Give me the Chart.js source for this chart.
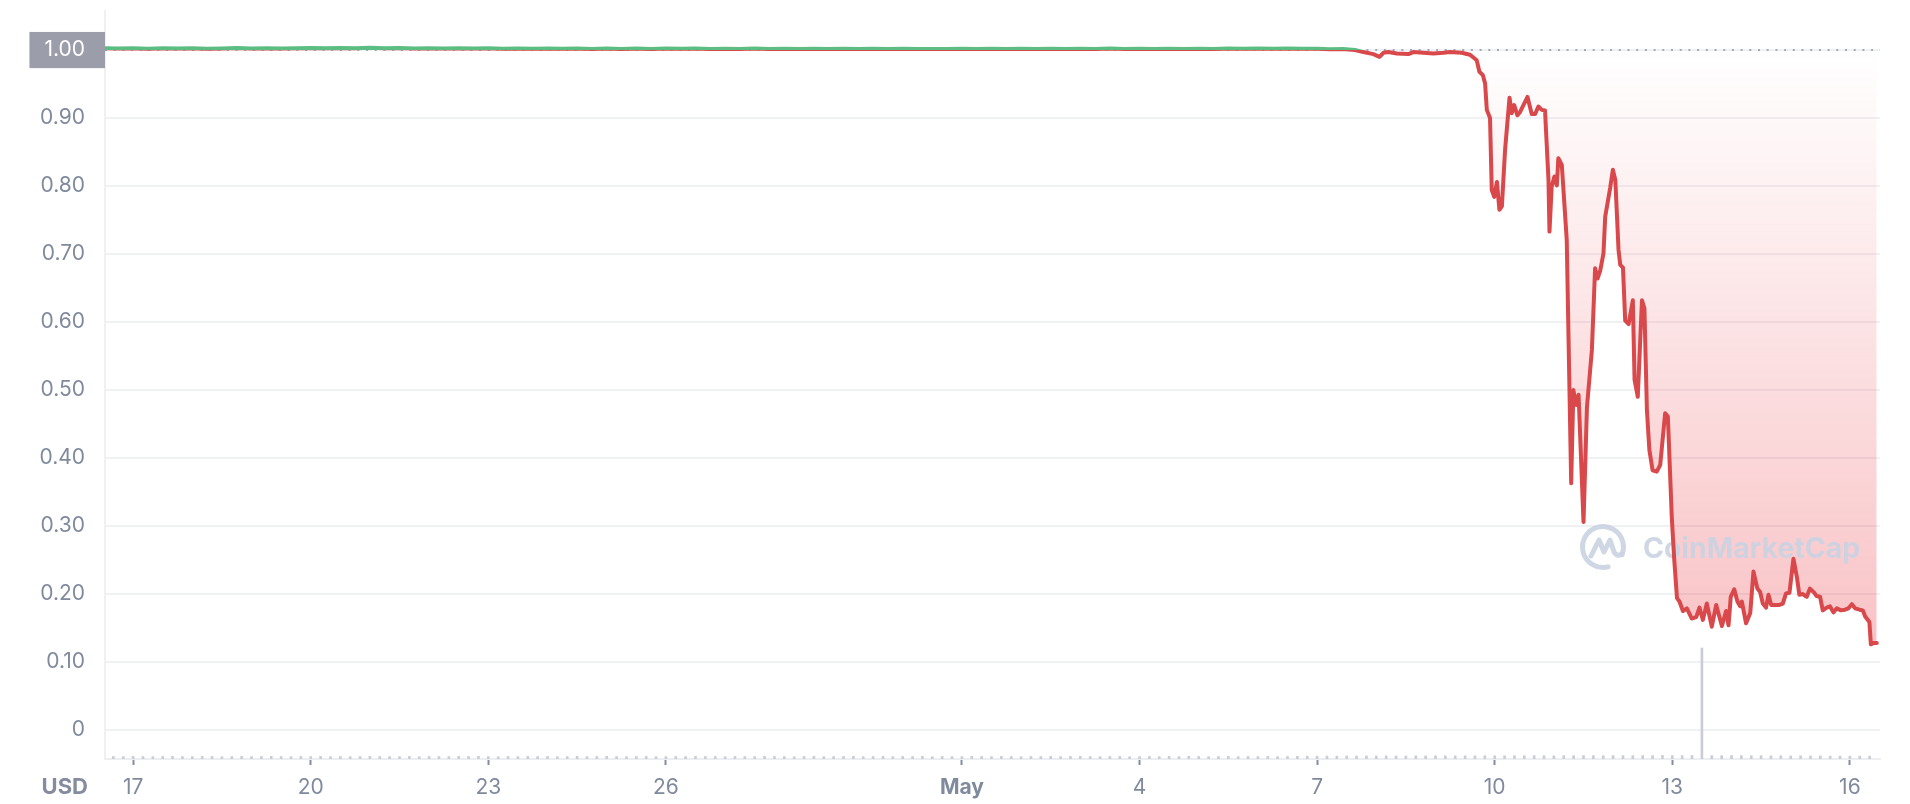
<!DOCTYPE html>
<html>
<head>
<meta charset="utf-8">
<script src="https://cdn.jsdelivr.net/npm/chart.js@4.4.0/dist/chart.umd.min.js"></script>
<style>
html,body{margin:0;padding:0;background:#fff;}
#wrap{width:1910px;height:804px;position:relative;}
</style>
</head>
<body>
<div id="wrap"><canvas id="c" width="1910" height="804"></canvas></div>
<script>
// ---------- DATA (hours counted from 17 Apr 00:00) ----------
const priceHours = [
  -11,-6,0,6,12,18,24,30,36,42,48,54,60,66,72,78,84,90,96,102,108,114,120,126,132,138,144,150,156,162,
  168,174,180,186,192,198,204,210,216,222,228,234,240,246,252,258,264,270,276,282,288,294,300,306,312,318,324,330,336,342,
  348,354,360,366,372,378,384,390,396,402,408,414,420,426,432,438,444,450,456,462,468,474,480,
  485.3,490.5,495.4,498.8,502.8,505.3,506.9,508.9,512.3,517.0,519.0,523.1,527.1,531.2,533.9,538.6,542.0,544.7,545.8,547.2,
  548.1,548.8,550.1,550.8,551.8,552.9,553.9,554.9,556.2,558.0,558.9,559.9,561.2,562.3,565.3,567.0,568.4,569.7,571.1,572.4,
  573.8,574.2,575.1,576.2,577.2,577.8,579.2,581.2,583.0,583.9,585.0,586.0,588.0,589.4,591.4,592.7,593.7,594.8,596.1,596.8,
  598.8,599.9,600.9,602.2,602.9,604.0,604.9,606.3,608.0,608.7,610.0,611.7,612.7,613.7,614.7,616.0,617.7,619.1,621.1,622.2,
  623.8,624.8,625.9,626.9,628.3,629.9,631.9,633.7,635.0,636.4,638.0,640.0,641.8,644.1,645.8,646.8,647.7,649.1,650.4,651.5,
  652.2,653.9,655.6,656.9,658.5,659.6,660.7,662.0,663.0,664.1,665.7,667.4,668.8,670.1,671.5,673.1,674.5,675.5,676.9,678.5,
  679.8,681.5,682.5,683.9,685.0,686.6,687.9,689.3,690.7,692.3,694.0,695.4,696.8,698.1,699.9,701.2,702.2,703.9,704.5,705.6,706.9
];
const priceUsd = [
  1.0025,1.0021,1.0027,1.0019,1.0025,1.0022,1.0028,1.0020,1.0024,1.0029,1.0023,1.0026,1.0021,1.0027,1.0030,1.0025,1.0031,1.0027,1.0033,1.0026,
  1.0029,1.0024,1.0028,1.0022,1.0026,1.0021,1.0025,1.0020,1.0024,1.0019,
  1.0023,1.0018,1.0022,1.0017,1.0021,1.0017,1.0022,1.0017,1.0023,1.0018,1.0021,1.0016,1.0020,1.0015,1.0021,1.0017,1.0019,1.0015,1.0018,1.0015,
  1.0020,1.0016,1.0018,1.0014,1.0019,1.0015,1.0017,1.0014,1.0018,1.0015,
  1.0019,1.0016,1.0020,1.0015,1.0018,1.0014,1.0019,1.0016,1.0021,1.0017,1.0020,1.0016,1.0019,1.0015,1.0020,1.0017,1.0021,1.0018,1.0022,1.0019,
  1.0021,1.0018,1.0020,
  1.001,1.0015,1.000,0.997,0.994,0.990,0.996,0.997,0.995,0.994,0.997,0.996,0.995,0.996,0.997,0.996,0.993,0.985,0.968,0.963,
  0.951,0.912,0.900,0.794,0.784,0.806,0.765,0.770,0.853,0.930,0.907,0.919,0.904,0.909,0.931,0.906,0.906,0.917,0.912,0.911,
  0.809,0.733,0.799,0.814,0.801,0.841,0.831,0.721,0.363,0.500,0.478,0.493,0.306,0.475,0.559,0.679,0.664,0.676,0.701,0.755,
  0.797,0.824,0.809,0.706,0.684,0.680,0.602,0.597,0.632,0.515,0.490,0.632,0.620,0.471,0.412,0.382,0.380,0.390,0.466,0.461,
  0.312,0.250,0.194,0.189,0.175,0.179,0.164,0.166,0.180,0.162,0.186,0.152,0.184,0.153,0.175,0.154,0.196,0.207,0.189,0.182,
  0.189,0.157,0.172,0.233,0.208,0.203,0.186,0.180,0.199,0.184,0.184,0.184,0.186,0.201,0.202,0.252,0.225,0.199,0.200,0.196,
  0.208,0.202,0.197,0.196,0.176,0.180,0.182,0.173,0.179,0.176,0.177,0.179,0.185,0.179,0.177,0.176,0.167,0.159,0.126,0.128,0.128
];
const baselinePrice = 1.000;

// volume, one bar every 4 hours starting at -8 h (arbitrary units)
const volumeStartHour = -8;
const volumeStepHours = 4;
const volumeValues = [
  0.34,0.32,0.35,0.33,0.31,0.34,0.36,0.33,0.32,0.35,0.34,0.31,0.33,0.35,0.32,0.34,0.36,0.33,0.31,0.34,
  0.33,0.35,0.32,0.34,0.31,0.33,0.36,0.34,0.32,0.33,0.35,0.31,0.34,0.33,0.32,0.35,0.34,0.36,0.33,0.31,
  0.34,0.32,0.35,0.33,0.34,0.31,0.33,0.35,0.32,0.34,0.36,0.33,0.32,0.34,0.35,0.31,0.33,0.34,0.32,0.35,
  0.33,0.34,0.31,0.35,0.32,0.33,0.36,0.34,0.33,0.31,0.34,0.35,0.32,0.33,0.34,0.36,0.31,0.33,0.35,0.32,
  0.34,0.33,0.35,0.31,0.34,0.32,0.33,0.36,0.34,0.32,0.35,0.33,0.31,0.34,0.33,0.35,0.32,0.34,0.36,0.33,
  0.32,0.34,0.35,0.31,0.33,0.34,0.32,0.35,0.33,0.36,0.34,0.32,0.33,0.35,0.31,0.34,0.33,0.35,0.32,0.34,
  0.36,0.38,0.37,0.39,0.38,0.40,0.39,0.41,0.40,0.42,0.41,0.40,0.42,0.41,0.43,0.42,0.41,0.43,0.42,0.44,
  0.43,0.42,0.44,0.43,0.45,0.44,0.43,0.45,0.44,0.46,0.45,0.44,0.46,0.45,0.44,0.46,0.45,0.47,0.46,0.45,
  0.46,14.84,0.45,0.44,0.46,0.45,0.43,0.44,0.42,0.43,0.41,0.42,0.40,0.41,0.39,0.40,0.38,0.39,0.37
];

const xRangeHours = [-11.4, 708.2];
const xTickHours = [0, 72, 144, 216, 336, 408, 480, 552, 624, 696];
const xTickLabels = ['17', '20', '23', '26', 'May', '4', '7', '10', '13', '16'];
const yRange = [-0.0426, 1.0574];
const yTickValues = [0, 0.1, 0.2, 0.3, 0.4, 0.5, 0.6, 0.7, 0.8, 0.9, 1.0];
const yTickLabels = ['0', '0.10', '0.20', '0.30', '0.40', '0.50', '0.60', '0.70', '0.80', '0.90', '1.00'];
const currencyLabel = 'USD';
const watermarkText = 'CoinMarketCap';

// ---------- STYLE ----------
const FONT = 'Inter, "Noto Sans", "DejaVu Sans", sans-serif';
const GREEN = '#5bbd82';
const RED = '#d9484a';
const LABEL = '#808a9d';

function grads(chart) {
  const a = chart.chartArea, y = chart.scales.y;
  if (!a || !y) return null;
  const key = a.top + '|' + a.bottom;
  if (chart.$grads && chart.$grads.key === key) return chart.$grads;
  const ctx = chart.ctx;
  const by = y.getPixelForValue(baselinePrice);
  const f = Math.min(Math.max((by - a.top) / (a.bottom - a.top), 0), 1);
  const stroke = ctx.createLinearGradient(0, a.top, 0, a.bottom);
  stroke.addColorStop(0, GREEN); stroke.addColorStop(f, GREEN);
  stroke.addColorStop(f, RED); stroke.addColorStop(1, RED);
  const low = y.getPixelForValue(Math.min(...priceUsd));
  const fill = ctx.createLinearGradient(0, by, 0, low);
  fill.addColorStop(0, 'rgba(234,57,67,0)');
  fill.addColorStop(1, 'rgba(234,57,67,0.30)');
  chart.$grads = { key, stroke, fill };
  return chart.$grads;
}

const decorations = {
  id: 'decorations',
  beforeDatasetsDraw(chart) {
    const { ctx, chartArea: a } = chart;
    ctx.save();
    const cx = a.right - 277, cy = a.bottom - 212;
    ctx.strokeStyle = 'rgba(203,211,226,0.92)';
    ctx.lineWidth = 5; ctx.lineCap = 'round'; ctx.lineJoin = 'round';
    ctx.beginPath(); ctx.arc(cx, cy, 20.5, Math.PI * 0.42, Math.PI * 2.12); ctx.stroke();
    ctx.beginPath();
    ctx.moveTo(cx - 12, cy + 9);
    ctx.lineTo(cx - 4, cy - 7);
    ctx.lineTo(cx + 1, cy + 5);
    ctx.lineTo(cx + 7, cy - 7);
    ctx.lineTo(cx + 11, cy + 5);
    ctx.quadraticCurveTo(cx + 14, cy + 10, cx + 19, cy + 7);
    ctx.stroke();
    let size = 30;
    ctx.font = '700 ' + size + 'px ' + FONT;
    const w = ctx.measureText(watermarkText).width;
    size = size * 217 / w;
    ctx.font = '700 ' + size.toFixed(2) + 'px ' + FONT;
    ctx.fillStyle = 'rgba(203,211,226,0.92)';
    ctx.textAlign = 'left'; ctx.textBaseline = 'alphabetic';
    ctx.fillText(watermarkText, a.right - 237, a.bottom - 201);
    ctx.restore();
  },
  afterDraw(chart) {
    const { ctx, chartArea: a } = chart;
    const xs = chart.scales.x;
    ctx.save();
    ctx.font = '700 22px ' + FONT;
    ctx.fillStyle = '#858ca0';
    ctx.textAlign = 'right'; ctx.textBaseline = 'middle';
    ctx.fillText(currencyLabel, a.left - 17, xs.top + 6 + 10 + 12.6);
    ctx.restore();
  }
};

const priceData = priceHours.map((h, i) => ({ x: h, y: priceUsd[i] }));
const volumeData = volumeValues.map((v, i) => ({ x: volumeStartHour + i * volumeStepHours, y: v }));

new Chart(document.getElementById('c'), {
  type: 'line',
  data: {
    datasets: [
      {
        label: 'Price',
        data: priceData,
        yAxisID: 'y',
        order: 0,
        borderWidth: 4,
        borderJoinStyle: 'round',
        borderCapStyle: 'round',
        pointRadius: 0,
        tension: 0,
        borderColor: c => { const g = grads(c.chart); return g ? g.stroke : RED; },
        fill: c => {
          const g = grads(c.chart);
          return { target: { value: baselinePrice }, above: 'rgba(22,199,132,0.06)', below: g ? g.fill : 'rgba(234,57,67,0.15)' };
        }
      },
      {
        label: 'Baseline',
        data: [{ x: xRangeHours[0], y: baselinePrice }, { x: xRangeHours[1], y: baselinePrice }],
        yAxisID: 'y',
        order: 1,
        borderColor: '#a3a8b3',
        borderWidth: 2,
        borderDash: [2, 6.7],
        pointRadius: 0,
        fill: false
      },
      {
        type: 'bar',
        label: 'Volume',
        data: volumeData,
        yAxisID: 'yVol',
        order: 2,
        backgroundColor: '#c9cdd5',
        barThickness: 2
      }
    ]
  },
  options: {
    responsive: false,
    animation: false,
    devicePixelRatio: 1,
    layout: { padding: { left: 0, right: 30, top: 11, bottom: 0 } },
    plugins: {
      legend: { display: false },
      tooltip: { enabled: false },
      filler: { drawTime: 'beforeDatasetsDraw' }
    },
    scales: {
      x: {
        type: 'linear',
        min: xRangeHours[0],
        max: xRangeHours[1],
        offset: false,
        afterBuildTicks: s => { s.ticks = xTickHours.map(v => ({ value: v })); },
        afterFit: s => { s.height = 45; s.paddingLeft = 0; s.paddingRight = 0; },
        ticks: {
          autoSkip: false,
          maxRotation: 0,
          padding: 10,
          color: LABEL,
          font: c => ({ family: FONT, size: 21, weight: xTickLabels[c.index] === 'May' ? 'bold' : 'normal' }),
          callback: (v, i) => xTickLabels[i]
        },
        grid: { drawOnChartArea: false, drawTicks: true, tickLength: 6, tickWidth: 2, tickColor: '#858ca0', offset: false },
        border: { display: true, color: '#eceef2', width: 2 }
      },
      y: {
        type: 'linear',
        position: 'left',
        min: yRange[0],
        max: yRange[1],
        afterBuildTicks: s => { s.ticks = yTickValues.map(v => ({ value: v })); },
        afterFit: s => { s.width = 105; s.paddingTop = 0; s.paddingBottom = 0; },
        ticks: {
          padding: 20,
          font: { family: FONT, size: 21 },
          color: c => (c.tick && c.tick.value === baselinePrice) ? '#ffffff' : LABEL,
          showLabelBackdrop: true,
          backdropColor: c => (c.tick && c.tick.value === baselinePrice) ? '#9b9eaa' : 'rgba(0,0,0,0)',
          backdropPadding: { left: 15, right: 21, top: 5.5, bottom: 5.5 },
          callback: (v, i) => yTickLabels[i]
        },
        grid: { color: '#f0f1f5', lineWidth: 2, drawTicks: false },
        border: { display: true, color: '#eef0f3', width: 2 }
      },
      yVol: {
        type: 'linear',
        display: false,
        min: 0,
        max: 100
      }
    }
  },
  plugins: [decorations]
});
</script>
</body>
</html>
